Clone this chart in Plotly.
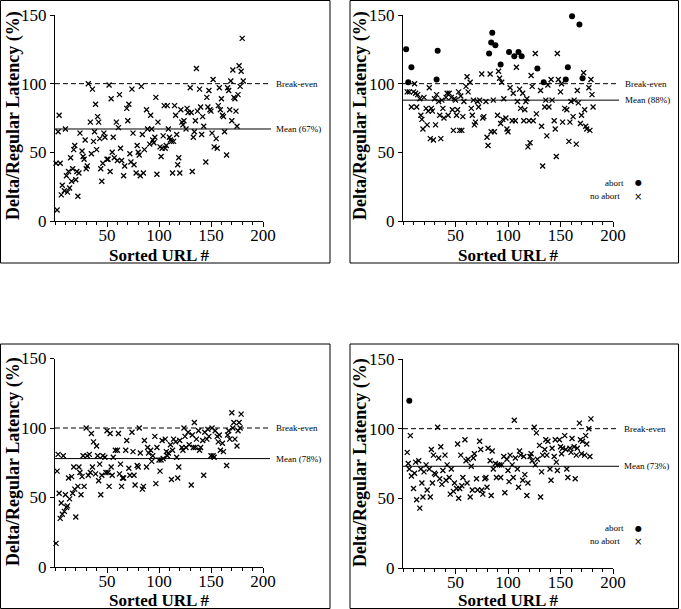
import plotly.graph_objects as go

# ---------------- data ----------------
p1_x = [2, 4, 3, 1, 5, 6, 7, 9, 10, 11, 12, 13, 14, 15, 16, 17, 18, 19, 20, 21, 22, 23, 24, 26, 27, 28, 29, 30, 31, 32,
        34, 35, 36, 37, 38, 39, 41, 42, 40, 43, 44, 45, 46, 47, 48, 50, 51, 52, 53, 54, 55, 56, 57, 59, 60, 61, 62, 63,
        64, 66, 67, 69, 70, 71, 72, 73, 74, 75, 76, 78, 79, 80, 81, 82, 83, 84, 85, 86, 88, 89, 91, 92, 93, 94, 95, 96,
        97, 98, 99, 101, 102, 103, 104, 105, 106, 107, 108, 109, 110, 111, 112, 113, 114, 115, 116, 117, 118, 119, 120,
        121, 122, 123, 124, 126, 127, 128, 130, 131, 132, 133, 134, 135, 137, 136, 139, 140, 141, 142, 143, 145, 146,
        147, 148, 149, 150, 151, 152, 153, 155, 156, 157, 158, 159, 160, 161, 162, 163, 165, 166, 167, 168, 169, 170,
        171, 172, 173, 174, 175, 176, 177, 178, 179, 180, 181]
p1_y = [8, 77, 65, 42, 42, 19, 26, 22, 67, 33, 21, 36, 24, 46, 29, 38, 52, 55, 30, 36, 18, 35, 64, 51, 47, 45, 59, 38,
        40, 100, 72, 49, 96, 58, 65, 85, 76, 72, 52, 60, 38, 29, 42, 64, 61, 45, 45, 99, 36, 89, 50, 61, 46, 72, 44,
        68, 92, 53, 44, 33, 40, 82, 73, 85, 49, 43, 96, 64, 41, 35, 55, 50, 48, 33, 98, 63, 35, 52, 81, 67, 56, 77, 67,
        59, 57, 61, 90, 34, 72, 54, 47, 53, 62, 84, 53, 55, 84, 67, 61, 59, 58, 35, 58, 84, 77, 63, 41, 46, 35, 81, 72,
        70, 73, 67, 82, 79, 97, 79, 36, 61, 65, 73, 80, 111, 96, 83, 63, 76, 69, 43, 90, 83, 95, 81, 80, 64, 103, 54,
        60, 53, 84, 97, 81, 89, 77, 76, 65, 48, 97, 95, 81, 102, 73, 110, 90, 89, 80, 69, 92, 113, 98, 109, 133, 102]

p2_abort_x = [3, 5, 8, 32, 33, 82, 84, 85, 88, 93, 101, 106, 110, 113, 128, 134, 155, 157, 161, 168, 171]
p2_abort_y = [125, 101, 112, 103, 124, 122, 130, 137, 128, 114, 123, 120, 123, 120, 111, 101, 103, 112, 149, 143, 104]
p2_x = [4, 6, 8, 10, 11, 12, 13, 14, 16, 17, 18, 19, 20, 22, 23, 24, 25, 26, 27, 28, 29, 30, 31, 32, 34, 35, 36, 37,
        38, 39, 41, 42, 43, 44, 46, 47, 48, 49, 50, 51, 52, 53, 54, 55, 56, 57, 58, 60, 61, 62, 64, 65, 66, 67, 68, 69,
        71, 72, 73, 75, 76, 77, 79, 80, 81, 83, 84, 86, 87, 90, 91, 92, 93, 94, 95, 96, 98, 99, 100, 102, 104, 105, 107,
        108, 109, 111, 112, 114, 115, 116, 117, 118, 119, 120, 121, 122, 123, 124, 126, 127, 131, 132, 133, 135, 136,
        137, 138, 139, 141, 142, 144, 145, 146, 147, 148, 150, 151, 152, 154, 156, 158, 159, 160, 162, 163, 165, 166,
        167, 169, 170, 172, 173, 174, 175, 177, 178, 179, 180, 181]
p2_y = [94, 94, 83, 94, 100, 93, 83, 92, 89, 77, 74, 67, 90, 82, 70, 80, 97, 60, 82, 80, 59, 89, 70, 92, 87, 77, 60, 88,
        82, 75, 90, 93, 77, 93, 90, 81, 66, 89, 88, 77, 81, 94, 66, 91, 66, 76, 87, 98, 105, 94, 101, 82, 77, 88, 70,
        72, 87, 83, 88, 107, 75, 76, 87, 61, 55, 107, 65, 88, 65, 77, 109, 104, 71, 101, 74, 89, 75, 67, 65, 97, 73,
        93, 73, 112, 87, 96, 82, 93, 73, 81, 87, 89, 54, 73, 57, 106, 98, 73, 122, 78, 95, 69, 40, 83, 88, 62, 99, 83,
        103, 88, 73, 67, 47, 122, 103, 94, 100, 72, 82, 81, 58, 72, 87, 76, 88, 56, 95, 86, 71, 77, 108, 81, 69, 67,
        97, 66, 103, 92, 83]

p3_x = [1, 2, 3, 4, 5, 6, 7, 8, 9, 10, 11, 12, 13, 14, 16, 17, 18, 19, 20, 22, 23, 24, 25, 26, 27, 28, 30, 31, 32, 33,
        34, 35, 36, 37, 39, 40, 41, 42, 43, 44, 45, 46, 48, 49, 50, 51, 52, 53, 54, 55, 56, 58, 60, 61, 62, 63, 64, 65,
        66, 68, 69, 71, 72, 74, 75, 76, 77, 79, 80, 81, 82, 84, 85, 86, 88, 89, 90, 92, 93, 94, 96, 97, 98, 100, 101,
        102, 103, 104, 106, 107, 108, 109, 111, 112, 113, 114, 116, 117, 118, 119, 120, 122, 123, 124, 125, 126, 128,
        129, 131, 132, 133, 134, 135, 136, 138, 139, 140, 142, 143, 144, 146, 147, 148, 150, 151, 152, 153, 154, 156,
        157, 158, 159, 161, 162, 165, 166, 167, 168, 170, 171, 172, 173, 175, 176, 177, 178, 179]
p3_y = [17, 69, 81, 53, 35, 46, 38, 80, 40, 52, 43, 44, 64, 49, 65, 53, 72, 56, 36, 58, 72, 68, 52, 65, 80, 58, 100, 80,
        66, 81, 68, 96, 72, 90, 67, 87, 80, 62, 74, 52, 66, 80, 79, 68, 98, 68, 58, 96, 72, 66, 79, 84, 84, 96, 67, 74,
        58, 64, 64, 84, 91, 71, 66, 97, 83, 66, 59, 73, 72, 100, 82, 56, 58, 91, 72, 86, 82, 84, 76, 80, 94, 60, 86, 77,
        69, 77, 91, 78, 92, 83, 80, 82, 88, 63, 84, 92, 90, 79, 64, 72, 91, 86, 84, 100, 94, 86, 97, 88, 59, 95, 86,
        104, 86, 92, 98, 84, 86, 91, 66, 97, 92, 99, 94, 80, 100, 80, 79, 98, 94, 90, 95, 84, 89, 83, 73, 95, 98, 92,
        111, 100, 104, 92, 87, 98, 104, 100, 110]

p4_abort_x = [6]
p4_abort_y = [120]
p4_x = [4, 5, 6, 7, 8, 10, 11, 12, 13, 15, 16, 17, 18, 19, 20, 22, 23, 25, 26, 27, 28, 29, 30, 31, 33, 34, 35, 36, 37,
        38, 40, 41, 42, 44, 45, 46, 48, 49, 51, 52, 53, 54, 55, 56, 57, 59, 60, 61, 62, 64, 65, 66, 67, 68, 70, 71, 73,
        74, 75, 76, 78, 79, 80, 81, 83, 84, 85, 86, 88, 89, 90, 92, 93, 94, 96, 97, 99, 100, 101, 102, 104, 105, 106,
        107, 109, 110, 111, 112, 114, 115, 116, 118, 119, 121, 122, 123, 125, 126, 127, 128, 130, 131, 132, 133, 135,
        136, 137, 138, 140, 141, 142, 144, 145, 146, 147, 149, 150, 151, 152, 154, 155, 156, 157, 159, 160, 161, 163,
        164, 165, 166, 168, 169, 170, 171, 173, 174, 175, 177, 178, 179]
p4_y = [83, 75, 71, 95, 66, 57, 68, 76, 49, 77, 43, 71, 61, 51, 69, 74, 56, 71, 51, 85, 61, 81, 68, 67, 101, 79, 64, 87,
        60, 70, 81, 63, 74, 65, 53, 71, 55, 61, 57, 89, 50, 57, 81, 59, 65, 92, 77, 61, 78, 51, 73, 56, 79, 82, 64, 56,
        91, 85, 56, 53, 64, 65, 58, 86, 77, 52, 84, 71, 75, 65, 74, 74, 65, 74, 80, 54, 78, 70, 62, 81, 74, 65, 106, 79,
        71, 58, 84, 81, 63, 80, 67, 52, 61, 80, 82, 77, 101, 74, 97, 78, 88, 51, 69, 81, 85, 92, 81, 91, 71, 63, 86, 80,
        92, 76, 70, 92, 87, 82, 86, 95, 85, 71, 65, 86, 83, 93, 87, 64, 81, 86, 104, 92, 82, 91, 81, 95, 89, 100, 80,
        107]

mean_values = [67, 88, 78, 73]
break_even = 100
x_ticks = [50, 100, 150, 200]
y_ticks = [0, 50, 100, 150]
x_title = "Sorted URL #"
y_title = "Delta/Regular Latency (%)"

# ---------------- layout helpers ----------------
W, H = 681, 609


def px(v):
    return v / W


def py(v):
    return 1 - v / H


SERIF = "Liberation Serif, Times New Roman, serif"

# panel geometry (pixels)
panels = [
    dict(xa=(55, 263), ya=(221, 15), line_end=271, text_x=274, box=(0.5, 0.5, 330, 263),
         ytitle=(13, 116), xtitle=(159, 255)),
    dict(xa=(403, 613), ya=(221, 15), line_end=619, text_x=623, box=(350, 0.5, 678.5, 263),
         ytitle=(360, 116), xtitle=(508, 255)),
    dict(xa=(55, 263), ya=(567, 358.5), line_end=270, text_x=274, box=(0.5, 344, 330, 608.5),
         ytitle=(13, 462), xtitle=(159, 600)),
    dict(xa=(403, 613), ya=(568, 359), line_end=619, text_x=622, box=(350, 344, 678.5, 608.5),
         ytitle=(360, 463), xtitle=(508, 600)),
]

fig = go.Figure()

cross = dict(symbol="x-thin", size=5, color="black", line=dict(width=1.3, color="black"))
dot = dict(symbol="circle", size=6, color="black")

series = [
    [(p1_x, p1_y, cross)],
    [(p2_x, p2_y, cross), (p2_abort_x, p2_abort_y, dot)],
    [(p3_x, p3_y, cross)],
    [(p4_x, p4_y, cross), (p4_abort_x, p4_abort_y, dot)],
]

shapes = []
annotations = []
layout_axes = {}

for i, (pan, ser) in enumerate(zip(panels, series)):
    n = i + 1
    xn = "x" if n == 1 else f"x{n}"
    yn = "y" if n == 1 else f"y{n}"
    for xs, ys, mk in ser:
        fig.add_trace(go.Scatter(x=xs, y=ys, mode="markers", marker=mk, xaxis=xn, yaxis=yn,
                                 showlegend=False, cliponaxis=False))
    xkey = "xaxis" if n == 1 else f"xaxis{n}"
    ykey = "yaxis" if n == 1 else f"yaxis{n}"
    layout_axes[xkey] = dict(
        domain=[px(pan["xa"][0]), px(pan["xa"][1])], anchor=yn, range=[0, 200], automargin=False,
        showline=True, linecolor="black", linewidth=1, ticks="outside", ticklen=5, tickcolor="black",
        tickvals=x_ticks, showgrid=False, zeroline=False, ticklabelstandoff=-6,
        tickfont=dict(family=SERIF, size=17, color="black"),
        minor=dict(dtick=10, ticks="outside", ticklen=3, tickcolor="black", showgrid=False),
    )
    layout_axes[ykey] = dict(
        domain=[py(pan["ya"][0]), py(pan["ya"][1])], anchor=xn, range=[0, 150], automargin=False,
        showline=True, linecolor="black", linewidth=1, ticks="outside", ticklen=4, tickcolor="black",
        tickvals=y_ticks, showgrid=False, zeroline=False,
        tickfont=dict(family=SERIF, size=17, color="black"),
    )
    bx0, by0, bx1, by1 = pan["box"]
    shapes.append(dict(type="rect", xref="paper", yref="paper", x0=px(bx0), x1=px(bx1), y0=py(by0), y1=py(by1),
                       line=dict(color="black", width=1)))
    shapes.append(dict(type="line", xref="paper", yref=yn, x0=px(pan["xa"][0]), x1=px(pan["line_end"]),
                       y0=break_even, y1=break_even, line=dict(color="black", width=1, dash="5px,3px")))
    shapes.append(dict(type="line", xref="paper", yref=yn, x0=px(pan["xa"][0]), x1=px(pan["line_end"]),
                       y0=mean_values[i], y1=mean_values[i], line=dict(color="black", width=1)))
    annotations.append(dict(xref="paper", yref=yn, x=px(pan["text_x"]), y=break_even, text="Break-even",
                            showarrow=False, xanchor="left", yanchor="middle",
                            font=dict(family=SERIF, size=9, color="black")))
    annotations.append(dict(xref="paper", yref=yn, x=px(pan["text_x"]), y=mean_values[i],
                            text=f"Mean ({mean_values[i]}%)",
                            showarrow=False, xanchor="left", yanchor="middle",
                            font=dict(family=SERIF, size=9, color="black")))
    annotations.append(dict(xref="paper", yref="paper", x=px(pan["ytitle"][0]), y=py(pan["ytitle"][1]),
                            text=y_title, textangle=-90, showarrow=False, xanchor="center", yanchor="middle",
                            font=dict(family=SERIF, size=18, color="black", weight="bold")))
    annotations.append(dict(xref="paper", yref="paper", x=px(pan["xtitle"][0]), y=py(pan["xtitle"][1]),
                            text=x_title, showarrow=False, xanchor="center", yanchor="middle",
                            font=dict(family=SERIF, size=17, color="black", weight="bold")))

# legends (panels 2 and 4): text left of symbol
for (ya, yb) in [(183, 196), (528, 541)]:
    annotations.append(dict(xref="paper", yref="paper", x=px(626), y=py(ya), text="abort", showarrow=False,
                            xanchor="right", yanchor="middle", font=dict(family=SERIF, size=9, color="black")))
    annotations.append(dict(xref="paper", yref="paper", x=px(622), y=py(yb), text="no abort", showarrow=False,
                            xanchor="right", yanchor="middle", font=dict(family=SERIF, size=9, color="black")))
    annotations.append(dict(xref="paper", yref="paper", x=px(638), y=py(ya), text="●", showarrow=False,
                            xanchor="center", yanchor="middle", font=dict(family="DejaVu Sans", size=8, color="black")))
    annotations.append(dict(xref="paper", yref="paper", x=px(638), y=py(yb), text="×", showarrow=False,
                            xanchor="center", yanchor="middle", font=dict(family="DejaVu Sans", size=10, color="black")))

fig.update_layout(
    width=W, height=H, margin=dict(l=0, r=0, t=0, b=0, autoexpand=False),
    paper_bgcolor="white", plot_bgcolor="white",
    shapes=shapes, annotations=annotations, showlegend=False,
    **layout_axes,
)

fig.write_html("out.html", config={"displayModeBar": False},
               post_script="document.body.style.margin='0';document.body.style.overflow='hidden';")
